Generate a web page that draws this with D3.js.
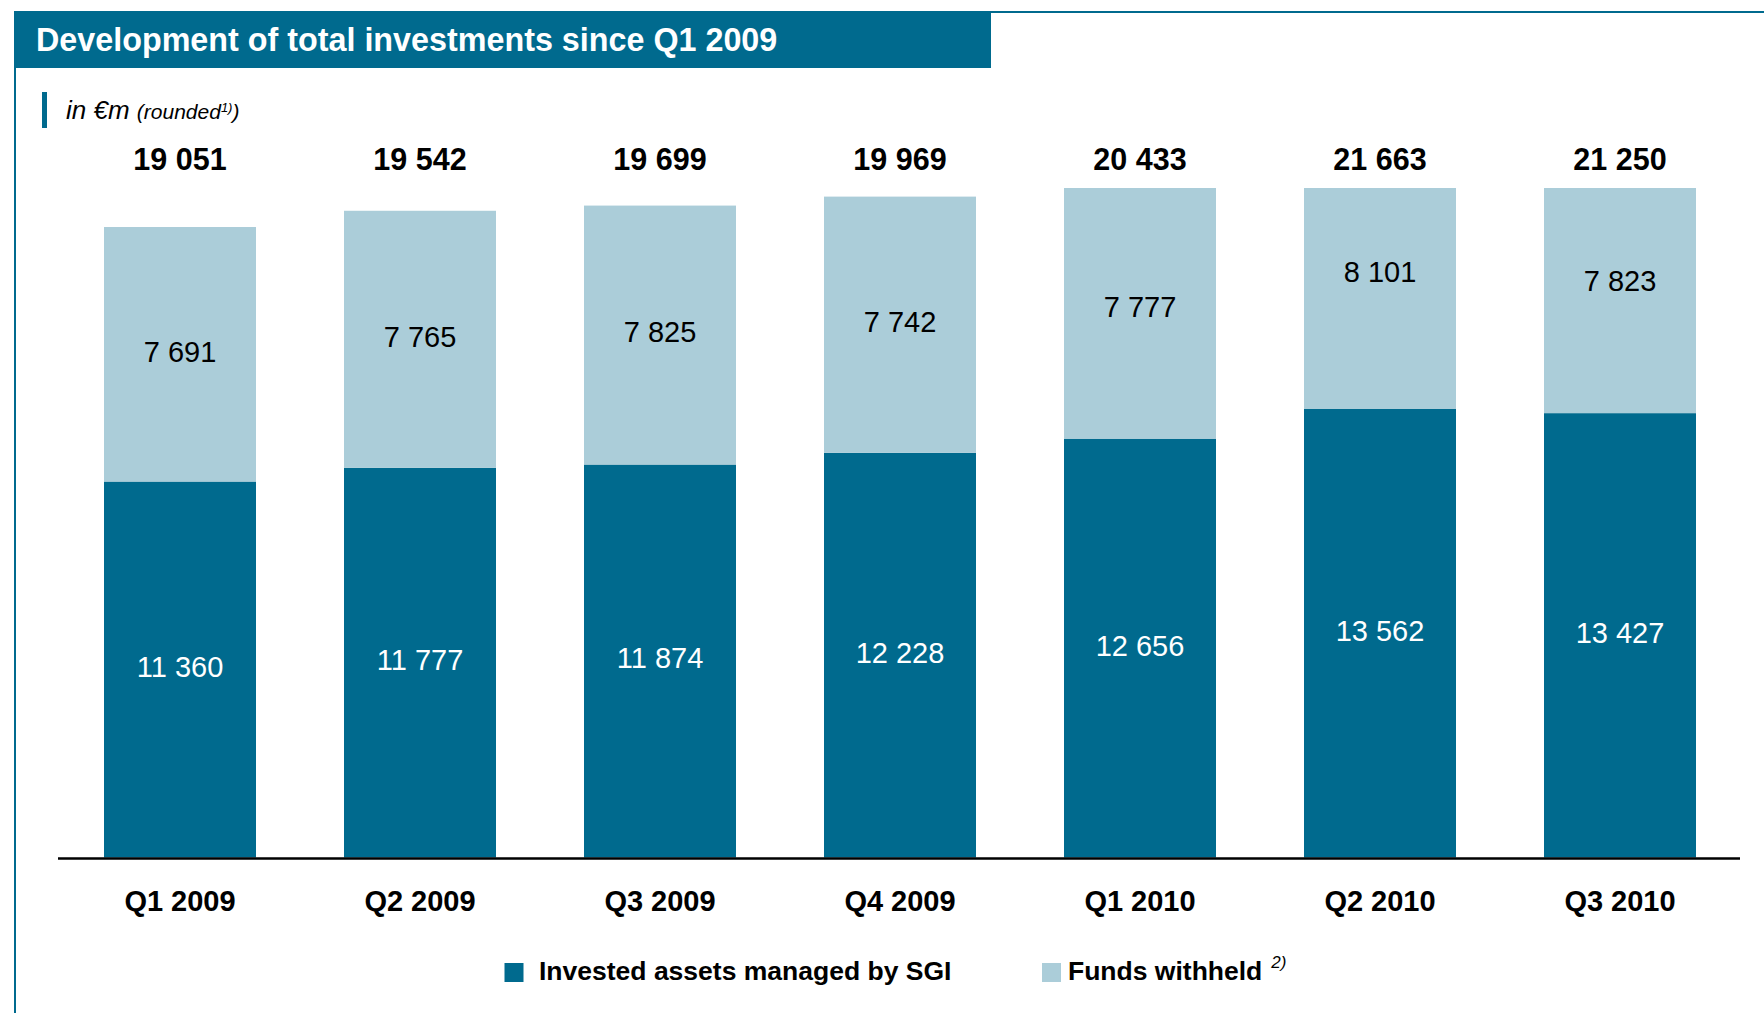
<!DOCTYPE html>
<html>
<head>
<meta charset="utf-8">
<script src="https://cdn.jsdelivr.net/npm/d3@7"></script>
<style>
  html, body { margin: 0; padding: 0; background: #ffffff; }
  svg { display: block; font-family: "Liberation Sans", Arial, Helvetica, sans-serif; }
</style>
</head>
<body>
<svg id="chart" width="1764" height="1013"></svg>
<script>
// ---- data ----
const categories = ["Q1 2009", "Q2 2009", "Q3 2009", "Q4 2009", "Q1 2010", "Q2 2010", "Q3 2010"];
const investedSGI = [11360, 11777, 11874, 12228, 12656, 13562, 13427];
const fundsWithheld = [7691, 7765, 7825, 7742, 7777, 8101, 7823];
const totals = [19051, 19542, 19699, 19969, 20433, 21663, 21250];
const seriesNames = ["Invested assets managed by SGI", "Funds withheld"];
const titleText = "Development of total investments since Q1 2009";
const visibleMax = 20230; // bars are cut off above this value in the original

// ---- styling ----
const DARK = "#006a8e";
const LIGHT = "#abcdd9";
const colors = [DARK, LIGHT];
const fmt = d3.formatLocale({ decimal: ".", thousands: " ", grouping: [3], currency: ["", ""] }).format(",d");

const svg = d3.select("#chart");

// frame
svg.append("line").attr("x1", 15).attr("x2", 15).attr("y1", 11).attr("y2", 1013)
  .attr("stroke", DARK).attr("stroke-width", 2);
svg.append("line").attr("x1", 990).attr("x2", 1764).attr("y1", 12).attr("y2", 12)
  .attr("stroke", DARK).attr("stroke-width", 2);

// title bar
svg.append("rect").attr("x", 14).attr("y", 11).attr("width", 977).attr("height", 57).attr("fill", DARK);
svg.append("text").attr("x", 36).attr("y", 51)
  .attr("fill", "#ffffff").attr("font-weight", "bold").attr("font-size", 32.3)
  .text(titleText);

// subtitle
svg.append("rect").attr("x", 42).attr("y", 92).attr("width", 5).attr("height", 36).attr("fill", DARK);
const sub = svg.append("text").attr("x", 66).attr("y", 119).attr("font-style", "italic").attr("fill", "#000");
sub.append("tspan").attr("font-size", 26).text("in €m ");
sub.append("tspan").attr("font-size", 21).text("(rounded");
sub.append("tspan").attr("font-size", 13).attr("dy", -7).text("1)");
sub.append("tspan").attr("font-size", 21).attr("dy", 7).text(")");

// scales
const x = d3.scaleBand().domain(categories).range([60, 1740])
  .paddingInner(88 / 240).paddingOuter(44 / 240);
const y = d3.scaleLinear().domain([0, visibleMax]).range([857.5, 188]);
const yBar = y.copy().clamp(true);

const rows = categories.map((c, i) => ({ cat: c, invested: investedSGI[i], withheld: fundsWithheld[i], total: totals[i] }));
const stack = d3.stack().keys(["invested", "withheld"]);
const stacked = stack(rows);

const g = svg.append("g");
g.selectAll("g.series").data(stacked).join("g")
  .attr("class", "series")
  .attr("fill", (d, i) => colors[i])
  .selectAll("rect").data(d => d).join("rect")
  .attr("x", d => x(d.data.cat))
  .attr("width", x.bandwidth())
  .attr("y", d => yBar(d[1]))
  .attr("height", d => yBar(d[0]) - yBar(d[1]));

// segment labels (centred on the un-cut segment)
g.selectAll("g.lbl").data(stacked).join("g")
  .attr("class", "lbl")
  .selectAll("text").data((d, i) => d.map(p => ({ p, i }))).join("text")
  .attr("x", d => x(d.p.data.cat) + x.bandwidth() / 2)
  .attr("y", d => (y(d.p[0]) + y(d.p[1])) / 2 - 3)
  .attr("dy", "0.36em")
  .attr("text-anchor", "middle")
  .attr("font-size", 29)
  .attr("fill", d => d.i === 0 ? "#ffffff" : "#000000")
  .text(d => fmt(d.p[1] - d.p[0]));

// totals
g.selectAll("text.total").data(rows).join("text")
  .attr("class", "total")
  .attr("x", d => x(d.cat) + x.bandwidth() / 2)
  .attr("y", 170)
  .attr("text-anchor", "middle")
  .attr("font-size", 30.5).attr("font-weight", "bold").attr("fill", "#000")
  .text(d => fmt(d.total));

// x axis
const xAxis = svg.append("g").attr("transform", "translate(0,858.5)")
  .call(d3.axisBottom(x).tickSize(0).tickPadding(38).tickSizeOuter(0));
xAxis.select(".domain").attr("stroke", "#000").attr("stroke-width", 2.5)
  .attr("d", `M${x.range()[0] - 2},0H${x.range()[1]}`);
xAxis.selectAll(".tick text")
  .attr("font-family", "'Liberation Sans', Arial, sans-serif")
  .attr("font-size", 29).attr("font-weight", "bold").attr("fill", "#000")
  .attr("dy", "0.71em").attr("y", 32);

// legend
const legendX = [504.5, 1042];
const leg = svg.append("g").selectAll("g").data(seriesNames).join("g")
  .attr("transform", (d, i) => `translate(${legendX[i]},963)`);
leg.append("rect").attr("width", 19).attr("height", 19).attr("fill", (d, i) => colors[i]);
const lt = leg.append("text").attr("x", (d, i) => i === 0 ? 34.5 : 26).attr("y", 17)
  .attr("font-size", 26.5).attr("font-weight", "bold").attr("fill", "#000");
lt.append("tspan").text(d => d);
lt.filter((d, i) => i === 1).append("tspan")
  .attr("dx", 9).attr("dy", -12).attr("font-size", 17).attr("font-weight", "normal")
  .attr("font-style", "italic").text("2)");
</script>
</body>
</html>
